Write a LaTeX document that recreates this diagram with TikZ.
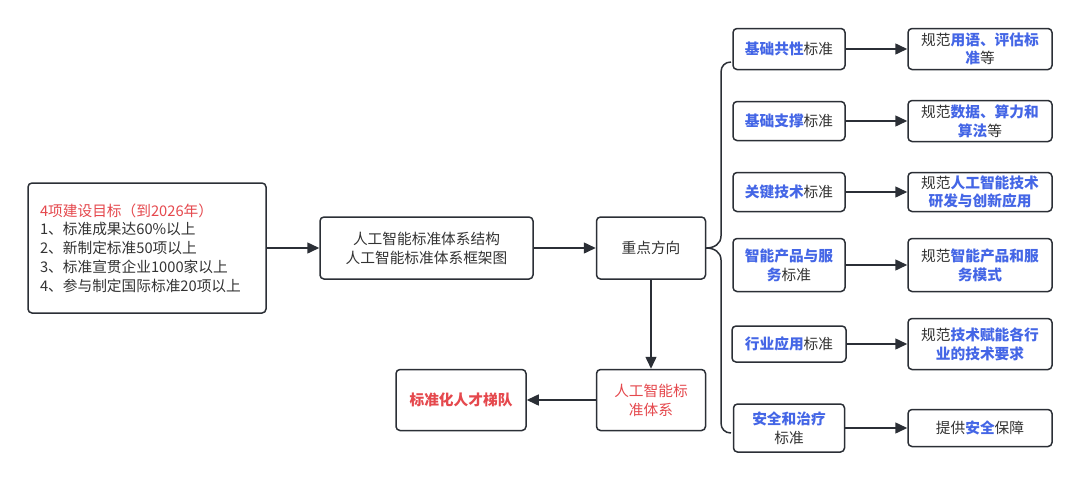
\documentclass[tikz,border=0pt]{standalone}
\usepackage{fontspec}
\setmainfont{Noto Sans CJK SC}
\usetikzlibrary{arrows.meta}
\definecolor{ink}{HTML}{2B2F36}
\definecolor{txt}{HTML}{333333}
\definecolor{hb}{HTML}{4466E6}
\definecolor{hr}{HTML}{E5484D}
\newcommand{\hlb}[1]{{\bfseries\color{hb}#1}}
\tikzset{
  box/.style={draw=ink, line width=1.5pt, rounded corners=4pt, fill=white, text=txt,
    font=\fontsize{14.7}{18.8}\selectfont, align=center, inner sep=2pt},
  conn/.style={draw=ink, line width=1.5pt, -{Triangle[length=12pt,width=11pt]}},
  brace/.style={draw=ink, line width=1.5pt}
}
\begin{document}
\begin{tikzpicture}[x=1pt,y=-1pt]
\useasboundingbox (0,0) rectangle (1080,480);
% main boxes
\node[box, minimum width=238pt, minimum height=130pt, text width=214pt, align=left, inner sep=12pt] (goals) at (147,248)
 {{\color{hr}4项建设目标（到2026年）}\\1、标准成果达60\%以上\\2、新制定标准50项以上\\3、标准宣贯企业1000家以上\\4、参与制定国际标准20项以上};
\node[box, minimum width=213pt, minimum height=62pt] (struct) at (426.5,248) {人工智能标准体系结构\\人工智能标准体系框架图};
\node[box, minimum width=109pt, minimum height=62pt] (focus) at (651,248) {重点方向};
\node[box, minimum width=109pt, minimum height=61pt, text=hr] (aisys) at (651,400) {人工智能标\\准体系};
\node[box, minimum width=130pt, minimum height=61pt, text=hr, font=\fontsize{14.7}{18.8}\selectfont\bfseries] (talent) at (461,400) {标准化人才梯队};
% left column of standards
\node[box, minimum width=112pt, minimum height=41pt] (l1) at (789,49) {\hlb{基础共性}标准};
\node[box, minimum width=112pt, minimum height=39pt] (l2) at (789,121) {\hlb{基础支撑}标准};
\node[box, minimum width=112pt, minimum height=39pt] (l3) at (789,192) {\hlb{关键技术}标准};
\node[box, minimum width=112pt, minimum height=53pt] (l4) at (789,265) {\hlb{智能产品与服}\\\hlb{务}标准};
\node[box, minimum width=114pt, minimum height=36pt] (l5) at (789,344) {\hlb{行业应用}标准};
\node[box, minimum width=111pt, minimum height=48pt] (l6) at (789,428) {\hlb{安全和治疗}\\标准};
% right column
\node[box, minimum width=144pt, minimum height=41pt] (r1) at (980,49) {规范\hlb{用语、评估标}\\\hlb{准}等};
\node[box, minimum width=144pt, minimum height=41pt] (r2) at (980,121) {规范\hlb{数据、算力和}\\\hlb{算法}等};
\node[box, minimum width=144pt, minimum height=39pt] (r3) at (980,192) {规范\hlb{人工智能技术}\\\hlb{研发与创新应用}};
\node[box, minimum width=144pt, minimum height=53pt] (r4) at (980,265) {规范\hlb{智能产品和服}\\\hlb{务模式}};
\node[box, minimum width=144pt, minimum height=51pt] (r5) at (980,344) {规范\hlb{技术赋能各行}\\\hlb{业的技术要求}};
\node[box, minimum width=144pt, minimum height=37pt] (r6) at (980,428) {提供\hlb{安全}保障};
% connectors
\draw[conn] (goals) -- (struct);
\draw[conn] (struct) -- (focus);
\draw[conn] (focus) -- (aisys);
\draw[conn] (aisys) -- (talent);
\foreach \i in {1,...,6} { \draw[conn] (l\i.east) -- (l\i.east -| r\i.west); }
% brace
\coordinate (bt) at (731,62);
\coordinate (bb) at (731,433);
\draw[brace] (bt) .. controls (725,62) and (721,66) .. (721,72) -- (721,236)
  .. controls (721,244) and (714,248) .. (focus.east)
  .. controls (714,248) and (721,252) .. (721,260) -- (721,423)
  .. controls (721,429) and (725,433) .. (bb);
\end{tikzpicture}
\end{document}
